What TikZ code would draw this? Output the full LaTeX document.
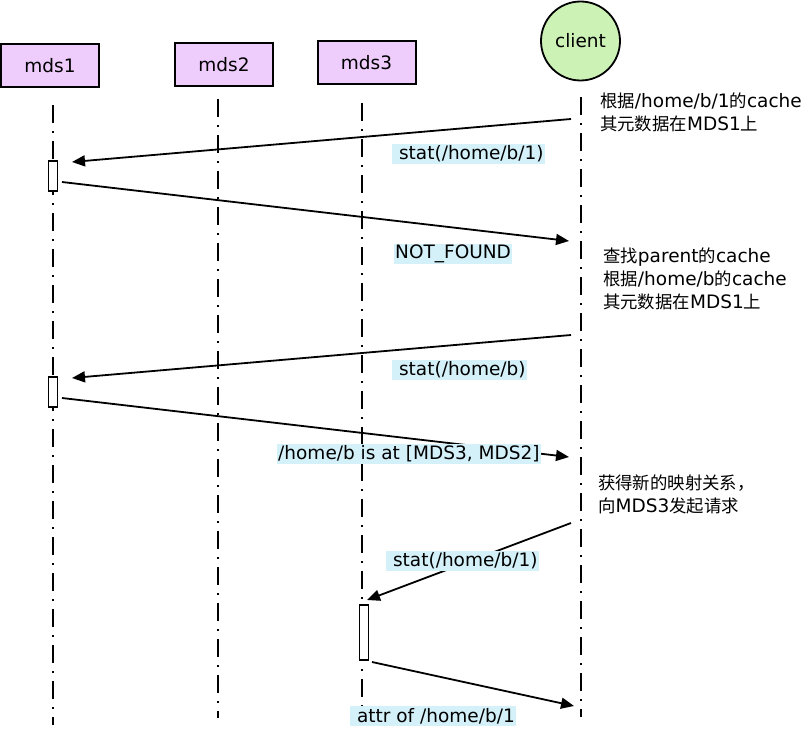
\documentclass[tikz,border=0pt]{standalone}
\usepackage{fontspec}
\setmainfont{DejaVu Sans}
\newfontfamily\cjk[Scale=0.94]{Noto Sans CJK SC}
\newcommand{\zh}[1]{{\cjk #1}}
\usetikzlibrary{arrows.meta}
\definecolor{mdsfill}{RGB}{238,204,252}
\definecolor{clientfill}{RGB}{204,242,182}
\definecolor{msgfill}{RGB}{212,241,250}

\begin{document}
\begin{tikzpicture}[x=1pt, y=-1pt, font=\fontsize{18.5}{23}\selectfont,
  server/.style={draw, line width=2pt, fill=mdsfill, minimum width=98pt, minimum height=43pt},
  lifeline/.style={line width=1.8pt, dash pattern=on 18pt off 8pt on 2pt off 8pt},
  act/.style={draw, line width=1.8pt, fill=white, minimum width=9pt, inner sep=0pt},
  msgline/.style={line width=1.8pt, -{Triangle[length=13pt,width=11pt]}},
  msg/.style={fill=msgfill, inner xsep=1pt, inner ysep=0pt, minimum height=20pt, anchor=west},
  note/.style={align=left, anchor=north west, inner sep=0pt}]
\useasboundingbox (0,0) rectangle (805,733);
% participants
\node[server] (mds1) at (50,65.5) {mds1};
\node[server] (mds2) at (224,64.5) {mds2};
\node[server] (mds3) at (366.5,62.5) {mds3};
\node[draw, circle, line width=1.8pt, fill=clientfill, minimum size=79pt, inner sep=0pt] (client) at (580.5,41) {client};
% lifelines
\foreach \x/\a/\b in {53/105/725, 218/99/718, 362/103/720, 581/97/717}
  \draw[lifeline] (\x,\a) -- (\x,\b);
% activations
\node[act, minimum height=30pt] (act1) at (53,176) {};
\node[act, minimum height=30pt] (act2) at (53,392) {};
\node[act, minimum height=55pt] (act3) at (364,632.5) {};
% message ends
\coordinate (c1) at (571,119);  \coordinate (m1) at (72,162);
\coordinate (m2) at (62,182);   \coordinate (c2) at (569,241);
\coordinate (c3) at (571,335);  \coordinate (m3) at (72,378);
\coordinate (m4) at (62,398);   \coordinate (c4) at (569,457);
\coordinate (c5) at (571,523);  \coordinate (m5) at (367,600);
\coordinate (m6) at (372,662);  \coordinate (c6) at (574,706);
\draw[msgline] (c1) -- (m1);
\draw[msgline] (m2) -- (c2);
\draw[msgline] (c3) -- (m3);
\draw[msgline] (m4) -- (c4);
\draw[msgline] (c5) -- (m5);
\draw[msgline] (m6) -- (c6);
% labels
\node[msg] (l1) at (392,154) {\ stat(/home/b/1)};
\node[msg] (l2) at (394,254) {NOT\_FOUND};
\node[msg] (l3) at (392,369.5) {\ stat(/home/b)};
\node[msg] (l4) at (277,453.5) {/home/b is at [MDS3, MDS2]};
\node[msg] (l5) at (386,560.5) {\ stat(/home/b/1)};
\node[msg] (l6) at (350,716) {\ attr of /home/b/1};
% notes
\node[note] (n1) at (600,93) {\zh{根据}/home/b/1\zh{的}cache\\\zh{其元数据在}MDS1\zh{上}};
\node[note] (n2) at (603,248) {\zh{查找}parent\zh{的}cache\\\zh{根据}/home/b\zh{的}cache\\\zh{其元数据在}MDS1\zh{上}};
\node[note] (n3) at (598,475) {\zh{获得新的映射关系，}\\\zh{向}MDS3\zh{发起请求}};
\end{tikzpicture}
\end{document}
